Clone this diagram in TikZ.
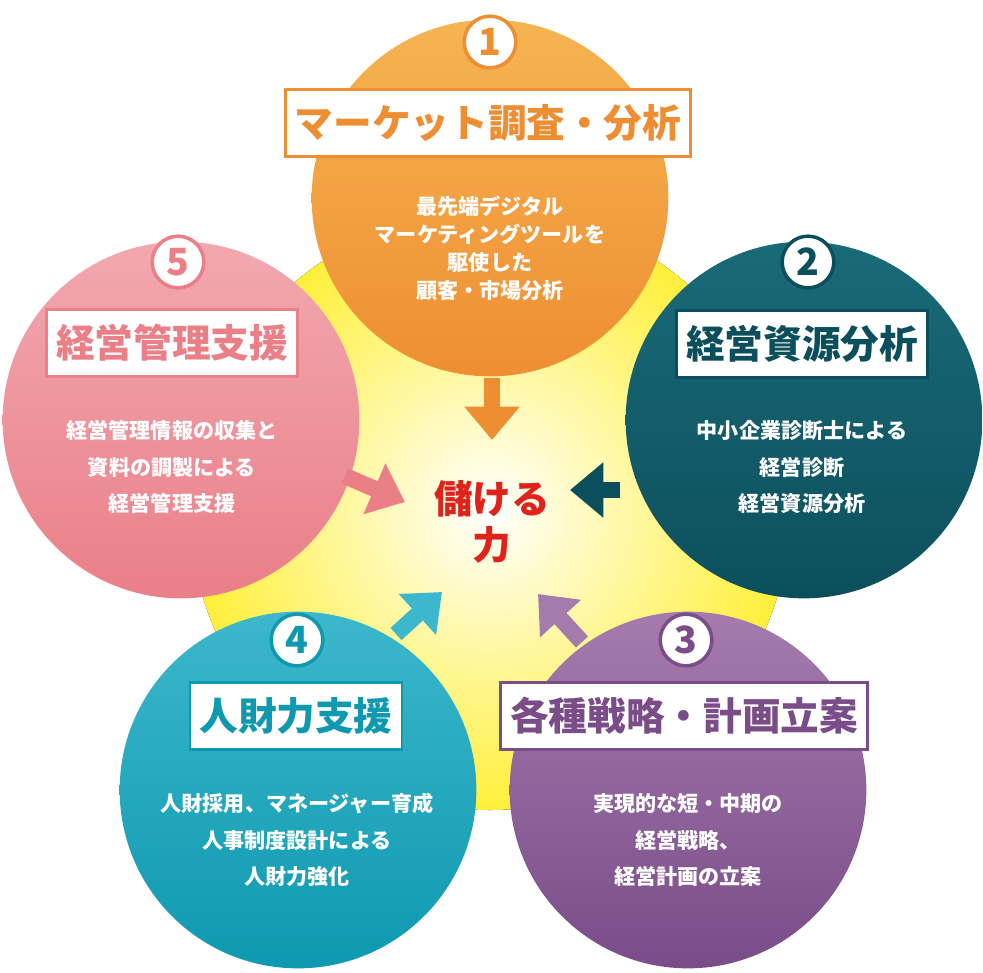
\documentclass[tikz,border=0pt]{standalone}
\usepackage{fontspec}
\setmainfont{Noto Sans CJK JP}
\usetikzlibrary{arrows.meta,positioning}
\definecolor{colOrange}{HTML}{EE8E33}
\definecolor{colOrangeL}{HTML}{F6B452}
\definecolor{colDark}{HTML}{0C4F5C}
\definecolor{colDarkL}{HTML}{1A6A78}
\definecolor{colPurple}{HTML}{7A4C88}
\definecolor{colPurpleL}{HTML}{A57BAE}
\definecolor{colTeal}{HTML}{0E99B0}
\definecolor{colTealL}{HTML}{3CB7CB}
\definecolor{colPink}{HTML}{EA7F88}
\definecolor{colPinkL}{HTML}{F2A8B0}
\definecolor{colYellow}{HTML}{FFEF3A}
\definecolor{colRed}{HTML}{E0221C}
\tikzset{
    bigcircle/.style={circle, minimum size=10.7cm, inner sep=0pt},
    badge/.style={circle, draw=#1, fill=white, line width=3pt, minimum size=1.55cm,
        inner sep=0pt, text=#1, font=\bfseries\fontsize{32}{32}\selectfont},
    titlebox/.style={draw=#1, fill=white, line width=2.5pt, text=#1, inner xsep=8pt,
        minimum height=2cm, font=\bfseries\fontsize{33}{33}\selectfont},
    body/.style={text=white, align=center, font=\bfseries\fontsize{18}{31}\selectfont},
    bigarrow/.style={line width=14pt, color=#1, -{Triangle[length=1cm,width=1.6cm]}}
}
\begin{document}
\begin{tikzpicture}[x=0.03cm, y=-0.03cm]
    \useasboundingbox (0,0) rectangle (983,972);
    % background
    \fill[inner color=white, outer color=colYellow] (490,510) circle (300);

    % circles
    \node[bigcircle, top color=colOrangeL, bottom color=colOrange] (c1) at (490,198) {};
    \node[bigcircle, top color=colDarkL, bottom color=colDark] (c2) at (804,420) {};
    \node[bigcircle, top color=colPurpleL, bottom color=colPurple] (c3) at (688,790) {};
    \node[bigcircle, top color=colTealL, bottom color=colTeal] (c4) at (298,790) {};
    \node[bigcircle, top color=colPinkL, bottom color=colPink] (c5) at (181,420) {};

    % badges
    \node[badge=colOrange] (b1) at (490,42) {1};
    \node[badge=colDark] (b2) at (808,262) {2};
    \node[badge=colPurple] (b3) at (686,640) {3};
    \node[badge=colTeal] (b4) at (297,640) {4};
    \node[badge=colPink] (b5) at (178,262) {5};

    % titles
    \node[titlebox=colOrange] (t1) at (488,123) {マーケット調査・分析};
    \node[titlebox=colDark] (t2) at (802,344) {経営資源分析};
    \node[titlebox=colPurple] (t3) at (684,716) {各種戦略・計画立案};
    \node[titlebox=colTeal] (t4) at (296,716) {人財力支援};
    \node[titlebox=colPink] (t5) at (172,343) {経営管理支援};

    % texts
    \node[body, font=\bfseries\fontsize{18}{24}\selectfont] (d1) at (490,248) {最先端デジタル\\マーケティングツールを\\駆使した\\顧客・市場分析};
    \node[body] (d2) at (802,467) {中小企業診断士による\\経営診断\\経営資源分析};
    \node[body] (d3) at (688,840) {実現的な短・中期の\\経営戦略、\\経営計画の立案};
    \node[body] (d4) at (297,840) {人財採用、マネージャー育成\\人事制度設計による\\人財力強化};
    \node[body] (d5) at (172,467) {経営管理情報の収集と\\資料の調製による\\経営管理支援};

    % center
    \node[text=colRed, align=center, font=\bfseries\fontsize{33}{40}\selectfont] (core) at (492,522) {儲ける\\力};

    % arrows
    \coordinate (a1) at (492,378);
    \coordinate (e1) at (492,440);
    \coordinate (a2) at (620,490);
    \coordinate (e2) at (570,490);
    \coordinate (a5) at (345,476);
    \coordinate (e5) at (405,502);
    \coordinate (a4) at (396,634);
    \coordinate (e4) at (442,592);
    \coordinate (a3) at (582,642);
    \coordinate (e3) at (538,594);
    \draw[bigarrow=colOrange] (a1) -- (e1);
    \draw[bigarrow=colDark] (a2) -- (e2);
    \draw[bigarrow=colPink] (a5) -- (e5);
    \draw[bigarrow=colTealL] (a4) -- (e4);
    \draw[bigarrow=colPurpleL] (a3) -- (e3);
\end{tikzpicture}
\end{document}
